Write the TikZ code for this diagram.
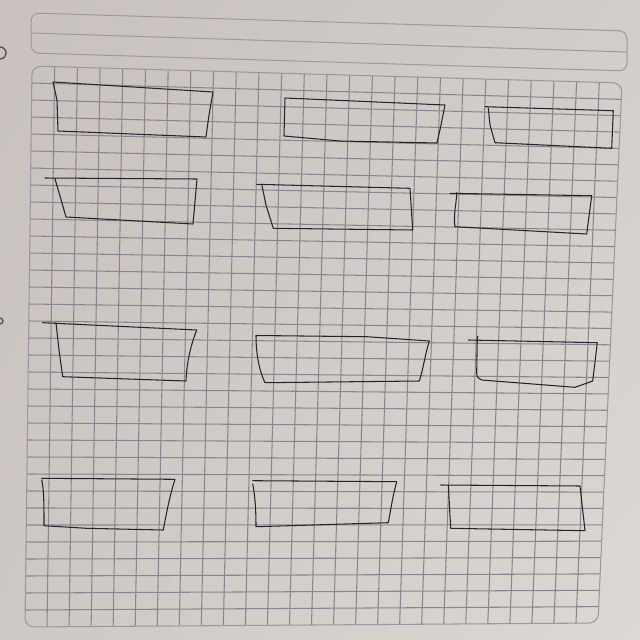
\documentclass[tikz,border=0pt]{standalone}
\usetikzlibrary{calc,shadings}
\definecolor{paperA}{HTML}{C8C1BD}
\definecolor{paperB}{HTML}{D2CDC9}
\definecolor{paperC}{HTML}{CEC8C4}
\definecolor{paperD}{HTML}{DCD8D4}
\definecolor{gridc}{HTML}{8A8491}
\definecolor{headc}{HTML}{9E999C}
\definecolor{ink}{HTML}{242428}
\definecolor{holec}{HTML}{5A5554}
\begin{document}
\begin{tikzpicture}[x=1pt,y=-1pt,
  gridline/.style={draw=gridc,line width=1.05pt},
  gridframe/.style={draw=gridc!85,line width=1.05pt,rounded corners=9pt},
  headframe/.style={draw=headc,line width=1pt,rounded corners=8pt},
  headline/.style={draw=headc,line width=1pt},
  pen/.style={draw=ink,line width=1.05pt,line join=round,line cap=round},
  hole/.style={draw=holec,line width=1.4pt}]
\useasboundingbox (0,0) rectangle (640,640);
\shade[upper left=paperA,upper right=paperB,lower left=paperC,lower right=paperD] (0,0) rectangle (640,640);
% binder holes at the left edge
\draw[hole] (0,47) arc[start angle=90,end angle=-90,radius=6pt];
\draw[hole] (0,318) arc[start angle=90,end angle=-90,radius=3pt];
% header panel
\coordinate (HTL) at (31,13);
\coordinate (HTR) at (627,31);
\coordinate (HBR) at (627,71);
\coordinate (HBL) at (31,53);
\coordinate (HML) at (31,33);
\coordinate (HMR) at (627,52);
\draw[headframe] (HTL) -- (HTR) -- (HBR) -- (HBL) -- cycle;
\draw[headline] (HML) -- (HMR);
% grid panel
\coordinate (TL) at (32,66);
\coordinate (TR) at (622,83);
\coordinate (BR) at (598,623);
\coordinate (BL) at (25,627);
\foreach \k in {1,...,25}{
  \draw[gridline] ($(TL)!{\k/26}!(TR)$) -- ($(BL)!{\k/26}!(BR)$);
}
\foreach \j in {1,...,32}{
  \draw[gridline] ($(TL)!{\j/33}!(BL)$) -- ($(TR)!{\j/33}!(BR)$);
}
\draw[gridframe] (TL) -- (TR) -- (BR) -- (BL) -- cycle;
% hand-drawn boxes, row 1
\draw[pen] (53,82) -- (213,92) -- (209,115) -- (206,137) -- (58,131) -- (57,100) -- cycle;
\draw[pen] (285,98) -- (445,105) -- (441,125) -- (437,143) -- (340,141) -- (284,136) -- cycle;
\draw[pen] (485,106.7) -- (613.3,110.7) -- (611.7,148.3) -- (495,142.7) -- (490,125) -- (488.3,108.3);
% row 2
\draw[pen] (45,178) -- (197,179) -- (193,224) -- (66,217) -- (60,196) -- (55,179);
\draw[pen] (256.7,184.3) -- (410,188.3) -- (412.7,230) -- (273.3,228.3) -- (266,205) -- (261.7,184.3);
\draw[pen] (450,193.3) -- (591.7,195.7) -- (586.7,234) -- (455,226.7) .. controls (453,215) and (457,200) .. (456.7,192.7);
% row 3
\draw[pen] (42.7,322.7) -- (196.7,330) .. controls (191,345) and (187,360) .. (186,381) -- (62.7,376.7) -- (59,350) -- (56,322.7);
\draw[pen] (256,335.5) -- (366.7,336.7) -- (429.3,341) .. controls (425,355) and (423,370) .. (419.3,381) -- (265,382.7) .. controls (258,368) and (256,350) .. (256,336);
\draw[pen] (468.3,340) -- (597.3,342.7) -- (592.7,381) -- (575,387.3) -- (481.7,380) .. controls (477,378) and (476.7,376) .. (476.7,372) -- (477.3,338.3) -- (478,336);
% row 4
\draw[pen] (41.7,478.3) -- (175,479.3) .. controls (170,495) and (167,510) .. (163.3,530) -- (86.7,528.3) -- (44,525.7) .. controls (44,505) and (44,490) .. (41.7,480);
\draw[pen] (252.7,480.7) -- (396.7,481.7) .. controls (393,495) and (391,508) .. (388.3,522.7) -- (256,526.7) .. controls (256,510) and (255,495) .. (252.7,484);
\draw[pen] (440.7,485) -- (580,486) -- (585,530.7) -- (450.7,528.3) -- (448.3,485);
\end{tikzpicture}
\end{document}
